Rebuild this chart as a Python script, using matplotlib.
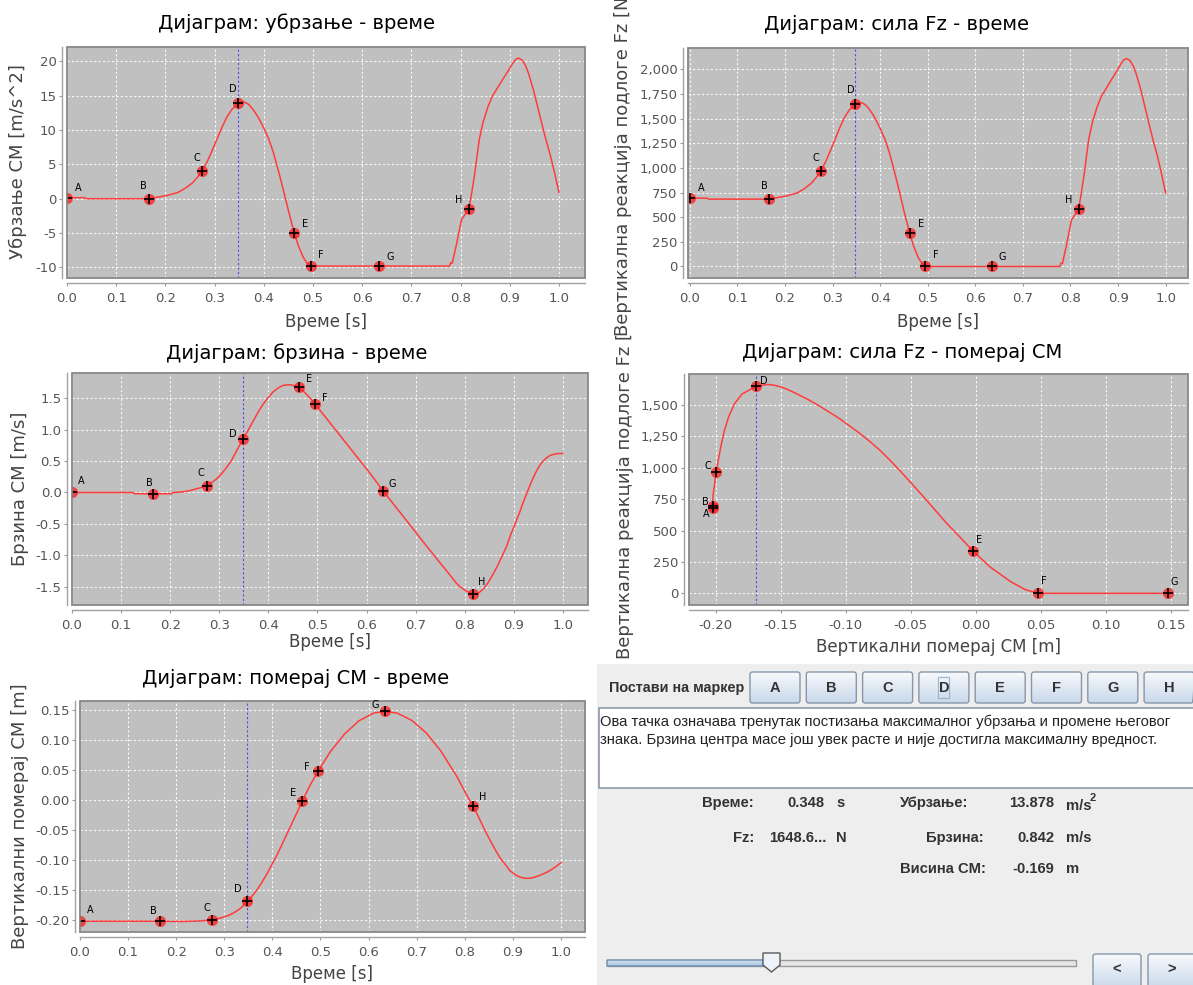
import numpy as np
import matplotlib
matplotlib.use("Agg")
import matplotlib.pyplot as plt
from matplotlib.patches import Rectangle, Polygon, FancyBboxPatch
from matplotlib.transforms import Bbox
from matplotlib.ticker import FuncFormatter, MultipleLocator

plt.rcParams['axes.unicode_minus'] = False
plt.rcParams['font.family'] = ['DejaVu Sans']

# ---------------- data ----------------
time = [0.000, 0.035, 0.040, 0.125, 0.127, 0.166, 0.190, 0.203, 0.205, 0.225,
        0.240, 0.255, 0.265, 0.275, 0.285, 0.295, 0.305, 0.315, 0.325, 0.335,
        0.348, 0.358, 0.363, 0.368, 0.373, 0.378, 0.384, 0.390, 0.395, 0.400,
        0.405, 0.410, 0.415, 0.420, 0.425, 0.430, 0.435, 0.440, 0.445, 0.450,
        0.456, 0.462, 0.470, 0.480, 0.488, 0.495, 0.520, 0.550, 0.580, 0.610,
        0.634, 0.660, 0.690, 0.720, 0.750, 0.778, 0.780, 0.783, 0.791, 0.802,
        0.810, 0.817, 0.823, 0.829, 0.838, 0.846, 0.856, 0.865, 0.873, 0.885,
        0.894, 0.905, 0.912, 0.918, 0.925, 0.932, 0.938, 0.948, 0.956, 0.965,
        0.974, 0.983, 0.992, 1.000]

accel = [0.15, 0.15, 0.00, 0.00, 0.00, 0.00, 0.30, 0.45, 0.50, 0.90,
         1.50, 2.30, 3.10, 4.10, 5.40, 7.00, 8.70, 10.40, 11.90, 13.00,
         13.88, 14.10, 14.00, 13.80, 13.45, 13.00, 12.40, 11.70, 11.00, 10.30,
         9.50, 8.70, 7.70, 6.60, 5.35, 4.00, 2.60, 1.20, -0.25, -1.70,
         -3.35, -5.00, -6.80, -8.50, -9.40, -9.81, -9.81, -9.81, -9.81, -9.81,
         -9.81, -9.81, -9.81, -9.81, -9.81, -9.81, -9.30, -9.40, -6.90, -3.05,
         -2.20, -1.50, 1.00, 3.75, 8.60, 11.20, 13.45, 15.00, 15.90, 17.30,
         18.30, 19.60, 20.30, 20.50, 20.20, 19.40, 18.30, 15.90, 13.60, 11.00,
         8.50, 6.20, 3.50, 0.90]

force = [693, 693, 683, 683, 683, 683, 704, 714, 718, 745,
         787, 843, 899, 968, 1059, 1170, 1288, 1407, 1511, 1588,
         1648.6, 1664, 1657, 1643, 1619, 1588, 1546, 1497, 1448, 1400,
         1344, 1288, 1219, 1142, 1055, 961, 864, 766, 665, 564,
         450, 335, 209, 91, 29, 0, 0, 0, 0, 0,
         0, 0, 0, 0, 0, 0, 35, 29, 203, 471,
         530, 578, 752, 944, 1281, 1462, 1619, 1727, 1789, 1887,
         1956, 2047, 2096, 2110, 2089, 2033, 1956, 1789, 1629, 1448,
         1274, 1114, 926, 745]

velocity = [0.00, 0.00, 0.00, 0.00, -0.02, -0.02, -0.02, -0.02, 0.00, 0.01,
            0.03, 0.06, 0.085, 0.11, 0.16, 0.22, 0.30, 0.40, 0.51, 0.66,
            0.842, 0.98, 1.05, 1.12, 1.19, 1.26, 1.34, 1.41, 1.46, 1.51,
            1.555, 1.60, 1.63, 1.66, 1.68, 1.70, 1.705, 1.71, 1.71, 1.70,
            1.69, 1.67, 1.62, 1.54, 1.47, 1.405, 1.16, 0.865, 0.57, 0.275,
            0.02, -0.235, -0.53, -0.83, -1.12, -1.39, -1.41, -1.44, -1.50, -1.56,
            -1.59, -1.61, -1.61, -1.59, -1.53, -1.45, -1.32, -1.19, -1.06, -0.86,
            -0.66, -0.45, -0.31, -0.18, -0.04, 0.10, 0.21, 0.37, 0.47, 0.54,
            0.59, 0.61, 0.62, 0.62]

displacement = [-0.202, -0.202, -0.202, -0.202, -0.202, -0.202, -0.2023, -0.2025, -0.2025, -0.2022,
                -0.2019, -0.2012, -0.2005, -0.1995, -0.1980, -0.1960, -0.1935, -0.1900, -0.1855, -0.1797,
                -0.169, -0.160, -0.1548, -0.1495, -0.1437, -0.1375, -0.1294, -0.121, -0.1135, -0.106,
                -0.0985, -0.091, -0.0826, -0.074, -0.0655, -0.057, -0.0485, -0.040, -0.0315, -0.023,
                -0.0125, -0.002, 0.011, 0.027, 0.038, 0.048, 0.080, 0.110, 0.132, 0.1447,
                0.148, 0.1447, 0.1326, 0.1117, 0.082, 0.0463, 0.044, 0.040, 0.028, 0.011,
                0.000, -0.0095, -0.019, -0.029, -0.044, -0.057, -0.072, -0.085, -0.096, -0.108,
                -0.118, -0.1245, -0.1275, -0.1292, -0.1303, -0.1305, -0.1300, -0.1280, -0.1255, -0.1225,
                -0.1190, -0.1145, -0.1095, -0.1045]

marker_names = ['A', 'B', 'C', 'D', 'E', 'F', 'G', 'H']
marker_times = [0.000, 0.166, 0.275, 0.348, 0.462, 0.495, 0.634, 0.817]
current_marker = 'D'

titles = ['Дијаграм: убрзање - време', 'Дијаграм: сила Fz - време',
          'Дијаграм: брзина - време', 'Дијаграм: сила Fz - померај CM',
          'Дијаграм: померај CM - време']
ylabels = ['Убрзање CM [m/s^2]', 'Вертикална реакција подлоге Fz [N]',
           'Брзина CM [m/s]', 'Вертикална реакција подлоге Fz [N]',
           'Вертикални померај CM [m]']
xlabels = ['Време [s]', 'Време [s]', 'Време [s]', 'Вертикални померај CM [m]', 'Време [s]']

info_text = ('Ова тачка означава тренутак постизања максималног убрзања и промене његовог\n'
             'знака. Брзина центра масе још увек расте и није достигла максималну вредност.')
info_time = '0.348'
info_force = '1648.6...'
info_accel = '13.878'
info_vel = '0.842'
info_height = '-0.169'

# ---------------- figure ----------------
W, H = 1193, 985
fig = plt.figure(figsize=(W / 100, H / 100), dpi=100)
fig.patch.set_facecolor('white')


def rect(l, t, r, b):
    return [l / W, 1 - b / H, (r - l) / W, (b - t) / H]


def fx(x):
    return x / W


def fy(y):
    return 1 - y / H


ui = fig.add_axes([0, 0, 1, 1], zorder=0)
ui.set_xlim(0, W)
ui.set_ylim(H, 0)
ui.axis('off')

midx = [time.index(t) for t in marker_times]
cur = marker_names.index(current_marker)

LINE = '#ff3c3c'
TICKC = '#555555'
LABC = '#444444'


def fmt1(v, p):
    return f'{round(v, 6) + 0.0:.1f}'


def fmt2(v, p):
    return f'{round(v, 6) + 0.0:.2f}'


def fmtc(v, p):
    return f'{int(round(v)):,}'


def setup(ax, xlim, ylim, xstep, ystep, xf, yf):
    ax.set_facecolor('#c0c0c0')
    ax.set_xlim(*xlim)
    ax.set_ylim(*ylim)
    ax.xaxis.set_major_locator(MultipleLocator(xstep))
    ax.yaxis.set_major_locator(MultipleLocator(ystep))
    ax.xaxis.set_major_formatter(FuncFormatter(xf))
    ax.yaxis.set_major_formatter(FuncFormatter(yf))
    ax.grid(True, color='white', ls=(0, (2, 2)), lw=0.8, alpha=0.9)
    ax.set_axisbelow(True)
    for s in ['top', 'right']:
        ax.spines[s].set_visible(False)
    for s in ['left', 'bottom']:
        ax.spines[s].set_position(('outward', 3.5))
        ax.spines[s].set_color('#a0a0a0')
        ax.spines[s].set_linewidth(1.0)
    ax.add_patch(Rectangle((0, 0), 1, 1, transform=ax.transAxes, fill=False,
                           ec='#888888', lw=1.3, zorder=6, clip_on=False))
    ax.tick_params(direction='out', length=2, width=0.8, color='#999999',
                   labelcolor=TICKC, labelsize=9.5, pad=2)
    ax.tick_params(axis='x', pad=4.5)


def markers(ax, xs, ys, names, offsets):
    ax.plot(xs, ys, 'o', ms=8, mfc=(1, 0.1, 0.1, 0.75), mec='none', zorder=4)
    ax.plot(xs, ys, '+', ms=6.5, mew=1.2, color='black', zorder=5)
    for x, y, n in zip(xs, ys, names):
        dx, dy = offsets[n]
        ax.annotate(n, (x, y), xytext=(dx, dy), textcoords='offset pixels',
                    ha='center', va='center', fontsize=7, color='black', zorder=6)


def texts(i, title_xy, xl_xy, yl_xy, clip_top=None):
    fig.text(fx(title_xy[0]), fy(title_xy[1]), titles[i], ha='center', va='center',
             fontsize=14, color='black')
    fig.text(fx(xl_xy[0]), fy(xl_xy[1]), xlabels[i], ha='center', va='center',
             fontsize=12, color=LABC)
    t = fig.text(fx(yl_xy[0]), fy(yl_xy[1]), ylabels[i], ha='center', va='center',
                 rotation=90, fontsize=13, color=LABC)
    if clip_top is not None:
        t.set_clip_box(Bbox.from_extents(0, 0, W, H - clip_top))
        t.set_clip_on(True)


tm = [time[k] for k in midx]

# Panel 1: acceleration
ax1 = fig.add_axes(rect(67, 47, 585, 278), zorder=1)
setup(ax1, (0, 1.053), (-11.55, 22.1), 0.1, 5, fmt1, lambda v, p: f'{int(round(v))}')
ax1.axvline(marker_times[cur], color='#3030ff', ls=(0, (2, 2)), lw=0.8, alpha=0.8, zorder=2)
ax1.plot(time, accel, color=LINE, lw=1.1, zorder=3)
off1 = {'A': (11, 10), 'B': (-5, 13), 'C': (-5, 13), 'D': (-5, 14),
        'E': (11, 9), 'F': (10, 11), 'G': (11, 9), 'H': (-10, 9)}
markers(ax1, tm, [accel[k] for k in midx], marker_names, off1)
texts(0, (297, 23), (326, 322), (18, 162))

# Panel 2: force vs time
ax2 = fig.add_axes(rect(688, 48, 1188, 278), zorder=1)
setup(ax2, (-0.004, 1.047), (-117, 2216), 0.1, 250, fmt1, fmtc)
ax2.axvline(marker_times[cur], color='#3030ff', ls=(0, (2, 2)), lw=0.8, alpha=0.8, zorder=2)
ax2.plot(time, force, color=LINE, lw=1.1, zorder=3)
markers(ax2, tm, [force[k] for k in midx], marker_names, off1)
texts(1, (897, 25), (938, 322), (623, 163))

# Panel 3: velocity
ax3 = fig.add_axes(rect(72, 373, 588, 605), zorder=1)
setup(ax3, (0, 1.051), (-1.786, 1.897), 0.1, 0.5, fmt1, fmt1)
ax3.axvline(marker_times[cur], color='#3030ff', ls=(0, (2, 2)), lw=0.8, alpha=0.8, zorder=2)
ax3.plot(time, velocity, color=LINE, lw=1.1, zorder=3)
off3 = {'A': (9, 11), 'B': (-4, 11), 'C': (-6, 13), 'D': (-10, 5),
        'E': (10, 8), 'F': (10, 6), 'G': (9, 7), 'H': (9, 12)}
markers(ax3, tm, [velocity[k] for k in midx], marker_names, off3)
texts(2, (297, 353), (330, 642), (20, 489))

# Panel 4: force vs displacement (A..G)
nG = midx[6] + 1
ax4 = fig.add_axes(rect(689, 374, 1188, 605), zorder=1)
setup(ax4, (-0.2205, 0.163), (-93, 1747), 0.05, 250, fmt2, fmtc)
ax4.axvline(displacement[midx[cur]], color='#3030ff', ls=(0, (2, 2)), lw=0.8, alpha=0.8, zorder=2)
ax4.plot(displacement[:nG], force[:nG], color=LINE, lw=1.1, zorder=3)
off4 = {'A': (-7, -8), 'B': (-8, 6), 'C': (-8, 6), 'D': (8, 5),
        'E': (6, 11), 'F': (5, 12), 'G': (6, 11)}
markers(ax4, [displacement[k] for k in midx[:7]], [force[k] for k in midx[:7]],
        marker_names[:7], off4)
texts(3, (902, 353), (938, 647), (625, 486), clip_top=333)

# Panel 5: displacement vs time
ax5 = fig.add_axes(rect(80, 701, 585, 932), zorder=1)
setup(ax5, (0, 1.05), (-0.22, 0.165), 0.1, 0.05, fmt1, fmt2)
ax5.axvline(marker_times[cur], color='#3030ff', ls=(0, (2, 2)), lw=0.8, alpha=0.8, zorder=2)
ax5.plot(time, displacement, color=LINE, lw=1.1, zorder=3)
off5 = {'A': (10, 11), 'B': (-6, 10), 'C': (-5, 12), 'D': (-10, 12),
        'E': (-9, 8), 'F': (-11, 4), 'G': (-10, 6), 'H': (10, 9)}
markers(ax5, tm, [displacement[k] for k in midx], marker_names, off5)
texts(4, (296, 679), (332, 974), (20, 816))

# ---------------- control panel ----------------
UIF = ['Liberation Sans', 'DejaVu Sans']
DARK = '#333333'
ui.add_patch(Rectangle((597, 664), W - 597, H - 664, fc='#eeeeee', ec='none', zorder=0))


def gradient_box(x0, y0, w, h, c_top, c_bot, ec, rounding=2.5, lw=1.0):
    g = np.linspace(0, 1, 64)[:, None, None]
    ct = np.array(matplotlib.colors.to_rgb(c_top))
    cb = np.array(matplotlib.colors.to_rgb(c_bot))
    img = (1 - g) * ct + g * cb
    img = np.repeat(img, 2, axis=1)
    box = FancyBboxPatch((x0, y0), w, h, boxstyle=f'round,pad=0,rounding_size={rounding}',
                         fc='none', ec=ec, lw=lw, zorder=3)
    ui.add_patch(box)
    im = ui.imshow(img, extent=(x0, x0 + w, y0 + h, y0), origin='upper',
                   aspect='auto', zorder=2, interpolation='bilinear')
    im.set_clip_path(box)


ui.text(609, 688, 'Постави на маркер', ha='left', va='center', fontsize=10.4,
        fontweight='bold', color=DARK, family=UIF)
for i, n in enumerate(marker_names):
    x0 = 750 + i * 56.3
    gradient_box(x0, 672, 50, 31, '#f7f9fc', '#c8d8ea', '#8497ab')
    ui.text(x0 + 25, 688, n, ha='center', va='center', fontsize=10.5,
            fontweight='bold', color=DARK, family=UIF, zorder=4)
    if n == current_marker:
        ui.add_patch(Rectangle((x0 + 19.5, 677), 11, 21, fill=False, ec='#9ab4d4',
                               lw=0.8, zorder=4))

ui.add_patch(Rectangle((598.5, 708), 600, 80, fc='white', ec='#8c9aa8', lw=1.2, zorder=1))
ui.text(600, 731, info_text, ha='left', va='center', fontsize=10.6, color='#222222',
        family=UIF, linespacing=1.35, zorder=2)

rows = [803, 838, 869]
bold = dict(fontsize=10.6, fontweight='bold', color=DARK, family=UIF, va='center')
ui.text(754, rows[0], 'Време:', ha='right', **bold)
ui.text(825, rows[0], info_time, ha='right', **bold)
ui.text(836, rows[0], 's', ha='left', **bold)
ui.text(754, rows[1], 'Fz:', ha='right', **bold)
ui.text(827, rows[1], info_force, ha='right', **bold)
ui.text(836, rows[1], 'N', ha='left', **bold)
ui.text(900, rows[0], 'Убрзање:', ha='left', **bold)
ui.text(1054, rows[0], info_accel, ha='right', **bold)
ui.text(1066, rows[0] + 3, 'm/s', ha='left', **bold)
ui.text(1090, rows[0] - 5, '2', ha='left', fontsize=8, fontweight='bold', color=DARK,
        family=UIF, va='center')
ui.text(984, rows[1], 'Брзина:', ha='right', **bold)
ui.text(1054, rows[1], info_vel, ha='right', **bold)
ui.text(1066, rows[1], 'm/s', ha='left', **bold)
ui.text(900, rows[2], 'Висина CM:', ha='left', **bold)
ui.text(1054, rows[2], info_height, ha='right', **bold)
ui.text(1066, rows[2], 'm', ha='left', **bold)

# slider
ui.add_patch(Rectangle((607, 960), 1076 - 607, 6, fc='#e6e6e6', ec='#9a9a9a', lw=1.0, zorder=2))
gradient_box(607, 960, 771 - 607, 6, '#d4e2f1', '#a9c3df', '#6f8cae', rounding=0.5)
thumb = Polygon([(763, 953), (780, 953), (780, 965), (771.5, 972), (763, 965)], closed=True,
                fc='#eef3f9', ec='#5a5a5a', lw=1.0, zorder=5)
ui.add_patch(thumb)

# nav buttons
gradient_box(1093, 954, 48, 36, '#f7f9fc', '#c8d8ea', '#8497ab')
ui.text(1117, 970, '<', ha='center', va='center', fontsize=10.5, fontweight='bold',
        color=DARK, family=UIF, zorder=4)
gradient_box(1148, 954, 48, 36, '#f7f9fc', '#c8d8ea', '#8497ab')
ui.text(1172, 970, '>', ha='center', va='center', fontsize=10.5, fontweight='bold',
        color=DARK, family=UIF, zorder=4)

ui.set_xlim(0, W)
ui.set_ylim(H, 0)

fig.savefig('out.png', dpi=100, facecolor='white')
